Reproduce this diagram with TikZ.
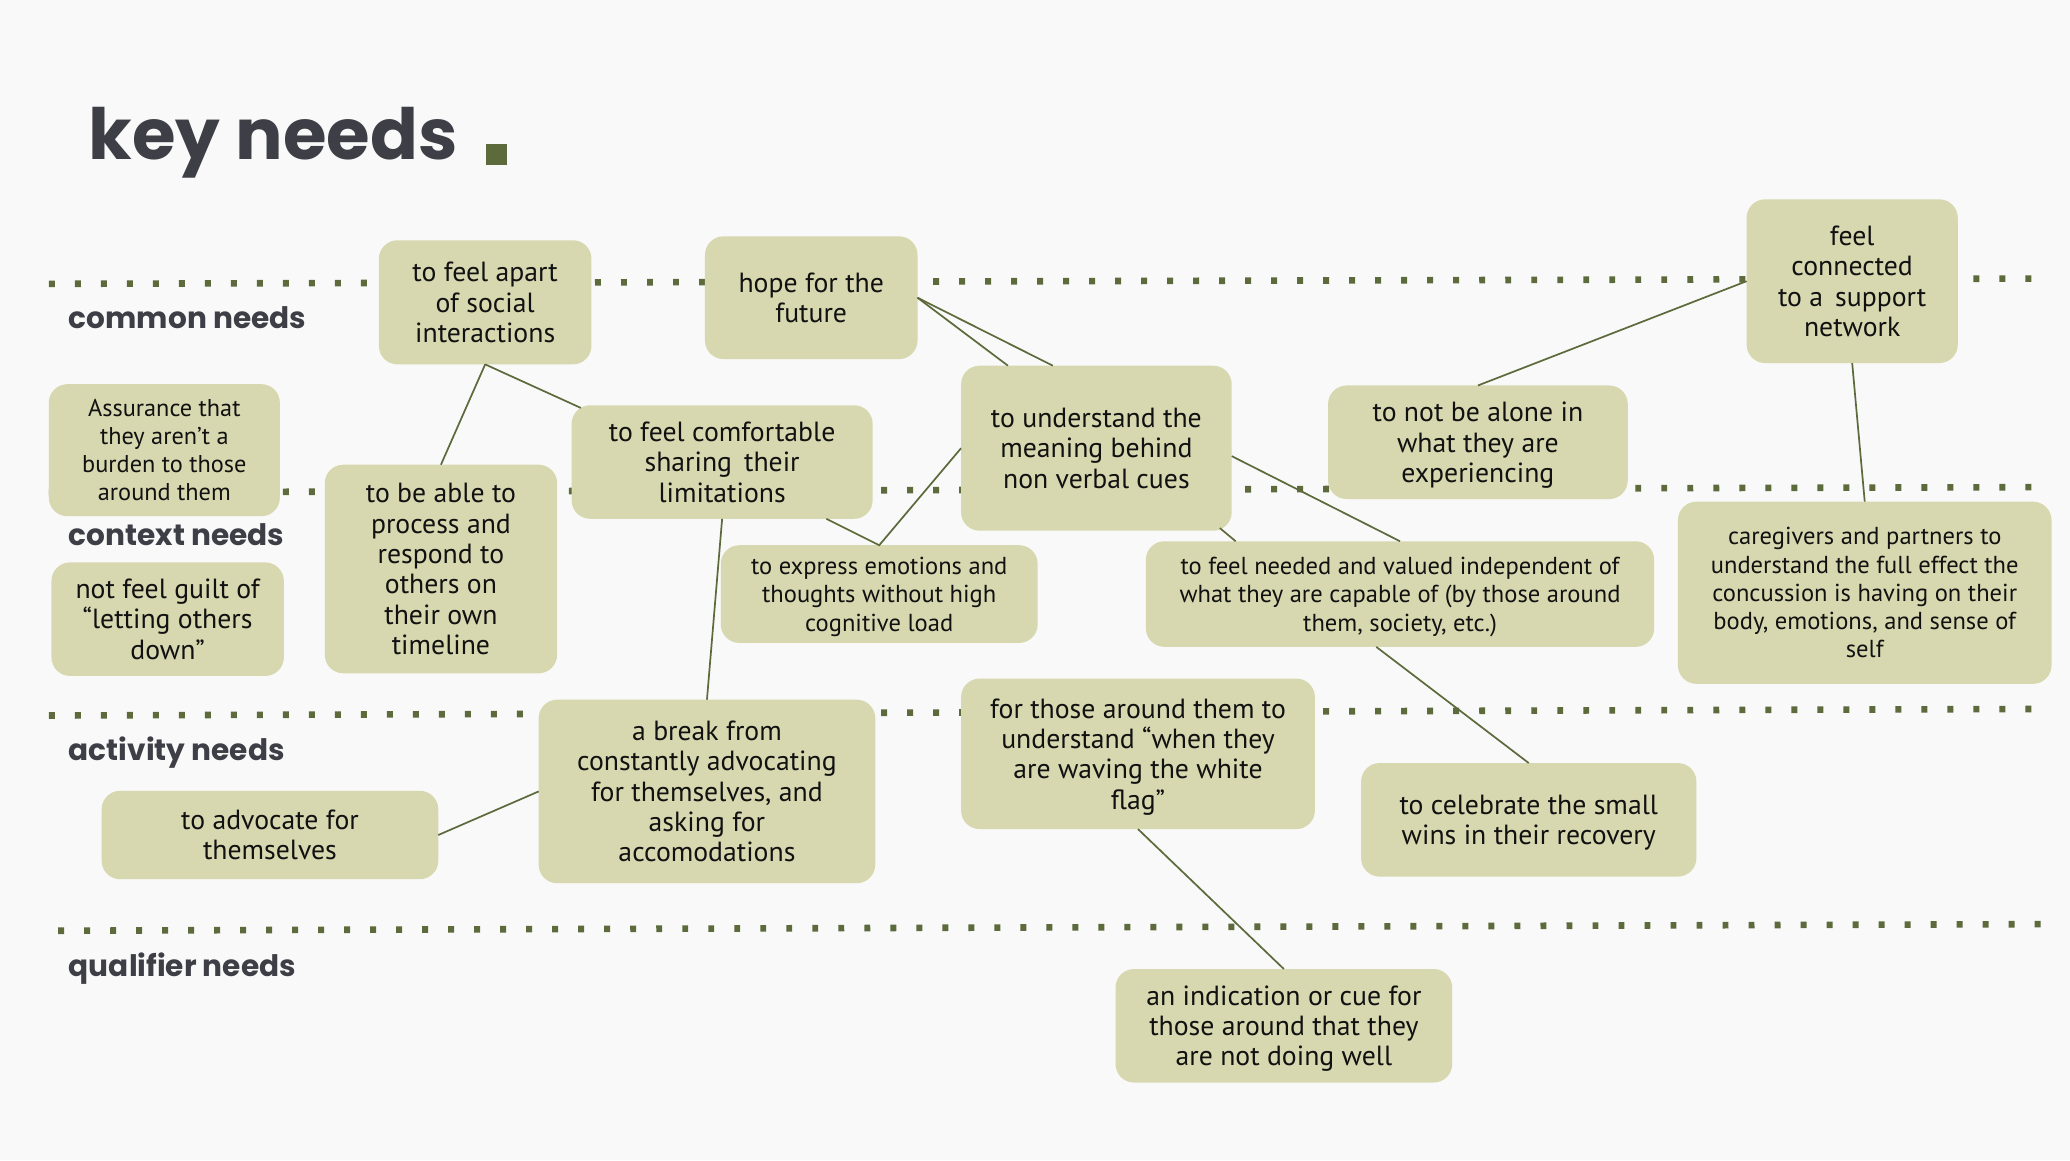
\documentclass[tikz,border=0pt]{standalone}
\usepackage{fontspec}
\setmainfont{PT Sans}
\newfontfamily\headfont{Poppins}
\usetikzlibrary{calc}
\definecolor{bgc}{HTML}{F9F9F9}
\definecolor{boxfill}{HTML}{D8D8B0}
\definecolor{olive}{HTML}{5C6A3C}
\definecolor{headgray}{HTML}{3E3F46}
\definecolor{ink}{HTML}{111111}
\tikzset{
  box/.style={rounded corners=14, fill=boxfill, align=center, inner sep=0, outer sep=0,
    text=ink, text depth=0pt, font=\fontsize{21}{23}\selectfont},
  smallbox/.style={box, font=\fontsize{18.6}{21.4}\selectfont},
  link/.style={draw=olive, line width=1.3},
  rowline/.style={draw=olive, line width=5, dash pattern=on 4.5 off 15.2},
  rowlabel/.style={anchor=base west, inner sep=0, text=headgray, font=\headfont\bfseries\fontsize{22.4}{26}\selectfont}
}
\begin{document}
\begin{tikzpicture}[x=1pt,y=-1pt]
\path[use as bounding box, fill=bgc] (0,0) rectangle (1568,879);

% row separators
\path[rowline] (37,215) -- (1548,211);
\path[rowline] (37,373) -- (1548,369);
\path[rowline] (37,542) -- (1548,537);
\path[rowline] (44,705) -- (1552,700);

% title
\node[anchor=base west, inner sep=0, text=headgray, font=\headfont\bfseries\fontsize{53.5}{60}\selectfont] (title) at (67,121) {key needs};
\node[fill=olive, minimum size=16, inner sep=0] (sq) at (376,117) {};

% row labels
\node[rowlabel] (lcommon) at (52,249) {common needs};
\node[rowlabel] (lcontext) at (52,413) {context needs};
\node[rowlabel] (lactivity) at (52,576) {activity needs};
\node[rowlabel] (lqualifier) at (52,740) {qualifier needs};

% boxes
\node[box, minimum width=161, minimum height=94] (A) at (367.5,229) {to feel apart\\of social\\interactions};
\node[box, minimum width=161, minimum height=93] (B) at (614.5,225.5) {hope for the\\future};
\node[box, minimum width=160, minimum height=124] (C) at (1403,213) {feel\\connected\\to a\, support\\network};
\node[smallbox, font=\fontsize{18.4}{21.3}\selectfont, minimum width=175, minimum height=100] (D) at (124.5,341) {Assurance that\\they aren’t a\\burden to those\\around them};
\node[box, minimum width=176, minimum height=158] (E) at (334,431) {to be able to\\process and\\respond to\\others on\\their own\\timeline};
\node[box, minimum width=228, minimum height=86] (F) at (547,350) {to feel comfortable\\sharing\, their\\limitations};
\node[box, minimum width=205, minimum height=125] (G) at (830.5,339.5) {to understand the\\meaning behind\\non verbal cues};
\node[box, minimum width=227, minimum height=86] (H) at (1119.5,335) {to not be alone in\\what they are\\experiencing};
\node[box, minimum width=176, minimum height=86] (I) at (127,469) {not feel guilt of\\“letting others\\down”};
\node[smallbox, minimum width=240, minimum height=74] (J) at (666,450) {to express emotions and\\thoughts without high\\cognitive load};
\node[smallbox, minimum width=385, minimum height=80] (K) at (1060.5,450) {to feel needed and valued independent of\\what they are capable of (by those around\\them, society, etc.)};
\node[smallbox, minimum width=283, minimum height=138] (L) at (1412.5,449) {caregivers and partners to\\understand the full effect the\\concussion is having on their\\body, emotions, and sense of\\self};
\node[box, minimum width=255, minimum height=139] (M) at (535.5,599.5) {a break from\\constantly advocating\\for themselves, and\\asking for\\accomodations};
\node[box, minimum width=255, minimum height=67] (N) at (204.5,632.5) {to advocate for\\themselves};
\node[box, minimum width=268, minimum height=114] (O) at (862,571) {for those around them to\\understand “when they\\are waving the white\\flag”};
\node[box, minimum width=254, minimum height=86] (P) at (1158,621) {to celebrate the small\\wins in their recovery};
\node[box, minimum width=255, minimum height=86] (Q) at (972.5,777) {an indication or cue for\\those around that they\\are not doing well};

% connectors
\draw[link] (A.south) -- (E.north);
\draw[link] (A.south) -- ($(F.north west)+(7,2)$);
\draw[link] (B.east) -- ($(G.north)+(-67,0)$);
\draw[link] (B.east) -- ($(G.north)+(-33,0)$);
\draw[link] ($(F.south)+(79,0)$) -- (J.north) -- (G.west);
\draw[link] (F.south) -- (M.north);
\draw[link] (C.west) -- (H.north);
\draw[link] (C.south) -- (L.north);
\draw[link] ($(G.east)+(0,6)$) -- (K.north);
\draw[link] ($(G.south east)+(-9,-2)$) -- ($(K.north west)+(68,0)$);
\draw[link] ($(K.south)+(-18,0)$) -- (P.north);
\draw[link] (M.west) -- (N.east);
\draw[link] (O.south) -- (Q.north);
\end{tikzpicture}
\end{document}
